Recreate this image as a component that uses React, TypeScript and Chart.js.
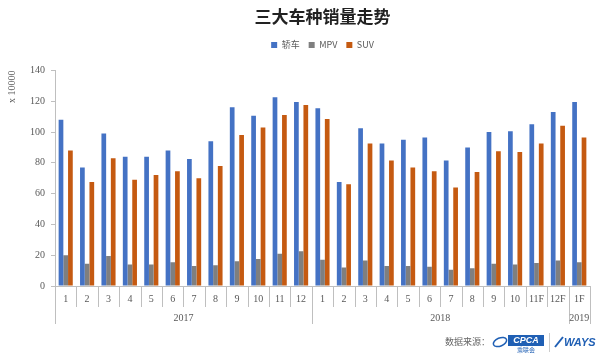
import React, { useEffect, useRef } from "react";
import { Chart, registerables } from "chart.js";

Chart.register(...registerables);

const categories = ["1","2","3","4","5","6","7","8","9","10","11","12","1","2","3","4","5","6","7","8","9","10","11F","12F","1F"];
const yearLabels = ["2017", "2018", "2019"];
const yearSpans = [12, 12, 1];
const sedan = [108, 77, 99, 84, 84, 88, 82.5, 94, 116, 110.5, 122.5, 119.5, 115.5, 67.5, 102.5, 92.5, 95, 96.5, 81.5, 90, 100, 100.5, 105, 113, 119.5];
const mpv = [20, 14.5, 19.5, 14, 14, 15.5, 13, 13.5, 16, 17.5, 21, 22.5, 17, 12, 16.5, 13, 13, 12.5, 10.5, 11.5, 14.5, 14, 15, 16.5, 15.5];
const suv = [88, 67.5, 83, 69, 72, 74.5, 70, 78, 98, 103, 111, 117.5, 108.5, 66, 92.5, 81.5, 77, 74.5, 64, 74, 87.5, 87, 92.5, 104, 96.5];
const yTicks = [0, 20, 40, 60, 80, 100, 120, 140];

const AXIS = "#bfbfbf";
const TEXT = "#595959";
const SERIF = "'Liberation Serif', 'DejaVu Serif', serif";
const CJK = "'Noto Sans CJK SC', sans-serif";

const legendGapPlugin = {
  id: "legendGap",
  beforeInit(chart: any) {
    const fit = chart.legend.fit;
    chart.legend.fit = function () {
      fit.bind(chart.legend)();
      this.height += 11;
    };
  },
};

const yearRowPlugin = {
  id: "yearRow",
  afterDraw(chart: any) {
    const ctx = chart.ctx;
    const x = chart.scales.x;
    const top = chart.chartArea.bottom;
    const half = (x.getPixelForValue(1) - x.getPixelForValue(0)) / 2;
    ctx.save();
    ctx.strokeStyle = AXIS;
    ctx.lineWidth = 1;
    ctx.fillStyle = TEXT;
    ctx.font = `10px ${SERIF}`;
    ctx.textAlign = "center";
    ctx.textBaseline = "middle";
    const drawLine = (px: number, len: number) => {
      const xx = Math.round(px) + 0.5;
      ctx.beginPath();
      ctx.moveTo(xx, top);
      ctx.lineTo(xx, top + len);
      ctx.stroke();
    };
    for (let i = 0; i <= categories.length; i++) {
      drawLine(x.getPixelForValue(0) - half + i * half * 2, 21);
    }
    drawLine(x.getPixelForValue(0) - half, 38);
    let start = 0;
    yearSpans.forEach((span, i) => {
      const l = x.getPixelForValue(start) - half;
      const r = x.getPixelForValue(start + span - 1) + half;
      drawLine(r, 38);
      ctx.fillText(yearLabels[i], (l + r) / 2, top + 32);
      start += span;
    });
    ctx.restore();

    // footer
    ctx.save();
    ctx.fillStyle = "#666";
    ctx.font = `9px ${CJK}`;
    ctx.textAlign = "right";
    ctx.textBaseline = "middle";
    ctx.fillText("数据来源：", 490, 342);
    ctx.strokeStyle = "#1f5fb4";
    ctx.lineWidth = 1.5;
    ctx.beginPath();
    ctx.ellipse(500, 342, 7, 4, -0.4, 0, Math.PI * 2);
    ctx.stroke();
    ctx.fillStyle = "#1f5fb4";
    ctx.fillRect(508, 335, 36, 11);
    ctx.fillStyle = "#fff";
    ctx.font = `italic bold 9px 'Liberation Sans', sans-serif`;
    ctx.textAlign = "center";
    ctx.fillText("CPCA", 526, 341);
    ctx.fillStyle = "#1f5fb4";
    ctx.font = `6px ${CJK}`;
    ctx.fillText("乘联会", 526, 350);
    ctx.strokeStyle = "#cccccc";
    ctx.lineWidth = 1;
    ctx.beginPath();
    ctx.moveTo(549.5, 333);
    ctx.lineTo(549.5, 352);
    ctx.stroke();
    ctx.strokeStyle = "#1f5fb4";
    ctx.lineWidth = 2;
    ctx.beginPath();
    ctx.moveTo(555, 347);
    ctx.lineTo(563, 337);
    ctx.stroke();
    ctx.fillStyle = "#1f5fb4";
    ctx.font = `italic bold 11px 'Liberation Sans', sans-serif`;
    ctx.textAlign = "left";
    ctx.fillText("WAYS", 564, 343);
    ctx.restore();
  },
};

export default function App() {
  const ref = useRef<HTMLCanvasElement>(null);
  useEffect(() => {
    document.body.style.margin = "0";
    const chart = new Chart(ref.current!, {
      type: "bar",
      data: {
        labels: categories,
        datasets: [
          { label: "轿车", data: sedan, backgroundColor: "#4472c4" },
          { label: "MPV", data: mpv, backgroundColor: "#7f7f7f" },
          { label: "SUV", data: suv, backgroundColor: "#c55a11" },
        ],
      },
      options: {
        animation: false,
        responsive: false,
        maintainAspectRatio: false,
        layout: { padding: { left: 2, right: 10, top: 0, bottom: 44 } },
        datasets: { bar: { categoryPercentage: 0.66, barPercentage: 1 } },
        plugins: {
          title: {
            display: true,
            fullSize: false,
            text: "三大车种销量走势",
            color: "#222",
            font: { family: CJK, size: 17, weight: "bold" },
            padding: { top: 6, bottom: 5 },
          },
          legend: {
            display: true,
            fullSize: false,
            labels: {
              boxWidth: 6,
              boxHeight: 6,
              color: TEXT,
              font: { family: CJK, size: 9 },
              padding: 9,
            },
          },
          tooltip: { enabled: false },
        },
        scales: {
          x: {
            grid: {
              offset: true,
              drawOnChartArea: false,
              drawTicks: false,
              color: AXIS,
            },
            border: { display: true, color: AXIS },
            ticks: {
              color: TEXT,
              font: { family: SERIF, size: 10 },
              padding: 7,
              maxRotation: 0,
              autoSkip: false,
            },
          },
          y: {
            min: 0,
            max: 140,
            afterBuildTicks: (s: any) => {
              s.ticks = yTicks.map((v) => ({ value: v }));
            },
            grid: { drawOnChartArea: false, tickLength: 4, color: AXIS },
            border: { display: true, color: AXIS },
            ticks: { color: TEXT, font: { family: SERIF, size: 10 }, padding: 6 },
            title: {
              display: true,
              text: "x 10000",
              align: "end",
              color: TEXT,
              font: { family: SERIF, size: 10 },
              padding: { bottom: 6 },
            },
          },
        },
      },
      plugins: [yearRowPlugin, legendGapPlugin],
    });
    return () => chart.destroy();
  }, []);
  return (
    <div style={{ width: 600, height: 356, background: "#fff" }}>
      <canvas ref={ref} width={600} height={356} style={{ display: "block" }} />
    </div>
  );
}
